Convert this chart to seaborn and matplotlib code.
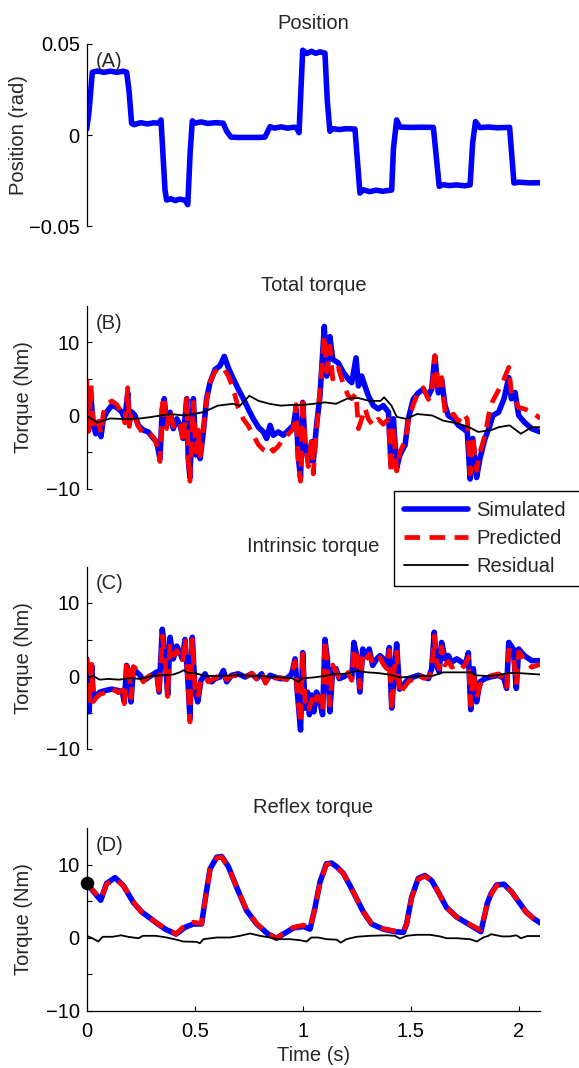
import numpy as np
import pandas as pd
import matplotlib
matplotlib.use("Agg")
import matplotlib.pyplot as plt
from matplotlib.patches import Rectangle
import seaborn as sns

# ---------------- data ----------------
pos_t = [0.000, 0.010, 0.026, 0.05, 0.08, 0.11, 0.14, 0.17, 0.185, 0.196, 0.208, 0.22, 0.25, 0.28, 0.31,
         0.335, 0.344, 0.3625, 0.370, 0.39, 0.41, 0.43, 0.455, 0.468, 0.479, 0.489, 0.50, 0.53, 0.56,
         0.60, 0.632, 0.648, 0.668, 0.70, 0.75, 0.80, 0.825, 0.849, 0.87, 0.90, 0.93, 0.96, 0.972,
         0.983, 1.000, 1.02, 1.04, 1.06, 1.08, 1.103, 1.114, 1.126, 1.14, 1.17, 1.20, 1.242, 1.265,
         1.28, 1.31, 1.34, 1.37, 1.412, 1.420, 1.435, 1.45, 1.50, 1.55, 1.605, 1.632, 1.65, 1.68,
         1.71, 1.75, 1.775, 1.787, 1.800, 1.82, 1.86, 1.90, 1.958, 1.978, 2.00, 2.05, 2.10]
pos_v = [0.0034, 0.012, 0.0345, 0.0352, 0.0345, 0.0351, 0.0345, 0.0351, 0.0345, 0.0243, 0.0065, 0.0058,
         0.0069, 0.0062, 0.0068, 0.0066, 0.0084, -0.030, -0.0355, -0.0348, -0.0358, -0.0350, -0.0356,
         -0.0380, -0.0093, 0.0079, 0.0066, 0.0073, 0.0065, 0.0069, 0.0066, 0.0022, -0.0010, -0.0012,
         -0.0012, -0.0012, -0.0010, 0.0047, 0.0039, 0.0046, 0.0039, 0.0044, 0.0040, 0.0014, 0.0466,
         0.0448, 0.0460, 0.0449, 0.0457, 0.0450, 0.0186, 0.0022, 0.0036, 0.0031, 0.0036, 0.0034,
         -0.0317, -0.0299, -0.0309, -0.0301, -0.0307, -0.0300, -0.0074, 0.0084, 0.0045, 0.0043,
         0.0044, 0.0043, -0.0280, -0.0271, -0.0276, -0.0272, -0.0277, -0.0272, -0.0040, 0.0075,
         0.0042, 0.0045, 0.0041, 0.0043, -0.0262, -0.0257, -0.0261, -0.0260]

tot_t = [0.000, 0.008, 0.020, 0.031, 0.042, 0.054, 0.066, 0.077, 0.093, 0.116, 0.139, 0.162, 0.177, 0.190,
         0.197, 0.208, 0.224, 0.239, 0.262, 0.285, 0.309, 0.324, 0.339, 0.350, 0.359, 0.370, 0.386, 0.401,
         0.417, 0.432, 0.447, 0.463, 0.470, 0.478, 0.486, 0.494, 0.505, 0.517, 0.525, 0.540, 0.555, 0.571,
         0.594, 0.617, 0.637, 0.656, 0.679, 0.702, 0.725, 0.748, 0.771, 0.795, 0.818, 0.833, 0.849, 0.864,
         0.887, 0.910, 0.926, 0.957, 0.969, 0.980, 0.990, 1.000, 1.011, 1.026, 1.042, 1.049, 1.064, 1.080,
         1.100, 1.111, 1.126, 1.139, 1.165, 1.188, 1.211, 1.227, 1.247, 1.258, 1.273, 1.288, 1.304, 1.327,
         1.350, 1.373, 1.397, 1.409, 1.420, 1.435, 1.450, 1.474, 1.489, 1.512, 1.535, 1.558, 1.582, 1.597,
         1.612, 1.628, 1.643, 1.659, 1.674, 1.698, 1.721, 1.744, 1.762, 1.775, 1.787, 1.805, 1.821, 1.844,
         1.867, 1.880, 1.907, 1.932, 1.954, 1.966, 1.983, 2.000, 2.026, 2.060, 2.100]
tot_sim = [3.5, -1.8, 2.3, -1.4, -2.5, -0.9, -2.9, -0.5, 0.5, 1.4, 1.1, 0.5, -0.5, 3.1, -0.9, 0.5, 0.0,
           -1.35, -2.0, -2.25, -3.15, -3.6, -5.9, 0.9, 2.3, -1.35, 0.45, -1.8, -0.45, -1.35, -3.15, 2.3,
           -5.9, -8.5, -2.25, 2.3, -5.4, -2.7, -5.9, -2.25, 2.3, 4.5, 6.3, 6.8, 8.1, 6.5, 5.0, 3.6, 2.3,
           0.9, -0.45, -1.6, -2.25, -3.15, -1.35, -2.7, -2.25, -2.7, -2.25, -1.35, 0.9, -5.85, -8.5, 1.8,
           -4.05, -6.3, -3.6, -6.3, -1.35, 2.7, 12.2, 5.4, 10.8, 7.7, 7.2, 5.9, 5.0, 4.5, 7.9, 4.05, 5.4,
           4.05, 2.7, 1.36, 0.9, 1.36, 0.45, -6.8, -0.45, -7.2, -5.4, -4.05, -0.45, 2.26, 3.1, 3.6, 2.7,
           3.6, 8.1, 3.1, 5.0, 1.36, 0.0, -0.45, -1.35, -1.8, -2.25, -8.7, -3.15, -8.5, -5.85, -3.15,
           -1.35, 0.0, 0.45, 2.3, 5.2, 2.3, 3.15, 0.0, -0.9, -1.8, -2.25]
tot_pred = [5.0, -2.2, 4.2, -1.5, -2.0, -0.8, -2.5, 0.3, 1.5, 2.0, 1.5, 0.3, -1.0, 3.8, -1.5, 0.5, -0.3,
            -1.5, -2.5, -2.3, -3.0, -4.0, -6.3, 1.5, 2.6, -1.8, 0.8, -1.5, -0.8, -1.0, -3.8, 2.6, -6.0,
            -9.0, -3.0, 1.8, -5.0, -2.0, -5.5, -2.0, 2.0, 4.6, 6.0, 6.6, 6.3, 5.4, 3.6, 1.0, -0.5, -1.4,
            -2.7, -4.0, -4.7, -4.9, -4.3, -4.9, -4.2, -3.2, -2.8, -1.8, 1.5, -6.5, -9.0, 2.5, -3.5, -7.0,
            -3.0, -8.0, -2.0, 3.5, 11.0, 6.0, 9.5, 5.0, 6.5, 4.3, 2.7, 2.3, 3.0, -1.8, -0.5, 1.0, -0.5,
            -1.4, -0.5, -1.2, -0.5, -8.0, -1.5, -7.6, -5.0, -3.5, -0.8, 1.5, 3.2, 3.8, 2.2, 3.0, 8.2, 3.5,
            5.2, 0.5, -0.3, 0.2, -0.8, 0.3, -0.5, -8.0, -2.8, -7.5, -5.0, -2.7, 1.0, 2.0, 3.5, 5.0, 6.6,
            3.2, 2.0, 1.1, 0.9, 0.5, -0.4]
tot_res_t = [0.0, 0.05, 0.11, 0.18, 0.248, 0.30, 0.385, 0.453, 0.539, 0.607, 0.676, 0.71, 0.753, 0.796,
             0.847, 0.898, 0.95, 1.0, 1.05, 1.103, 1.154, 1.205, 1.257, 1.308, 1.36, 1.377, 1.411, 1.436,
             1.479, 1.53, 1.6, 1.65, 1.72, 1.77, 1.813, 1.873, 1.907, 1.958, 2.01, 2.06, 2.1]
tot_res = [-0.07, -0.96, -0.4, -0.5, -0.4, -0.2, 0.2, 0.0, 0.45, 1.35, 1.6, 1.35, 2.7, 2.0, 1.6, 1.35,
           1.45, 1.45, 1.6, 1.8, 1.6, 2.3, 2.4, 2.0, 2.0, 2.5, 1.35, -0.2, -0.45, 0.2, 0.0, -0.7, -1.1,
           -1.6, -2.25, -2.0, -1.6, -1.35, -2.5, -1.6, -1.6]

int_t = [0.000, 0.011, 0.023, 0.031, 0.046, 0.062, 0.085, 0.116, 0.147, 0.165, 0.174, 0.185, 0.196, 0.205,
         0.216, 0.231, 0.247, 0.262, 0.278, 0.301, 0.324, 0.335, 0.350, 0.362, 0.375, 0.386, 0.401, 0.417,
         0.432, 0.443, 0.455, 0.468, 0.478, 0.489, 0.501, 0.514, 0.529, 0.548, 0.563, 0.579, 0.594, 0.617,
         0.633, 0.648, 0.671, 0.702, 0.733, 0.764, 0.787, 0.810, 0.828, 0.849, 0.872, 0.895, 0.926, 0.949,
         0.965, 0.975, 0.990, 1.000, 1.011, 1.022, 1.031, 1.042, 1.052, 1.064, 1.080, 1.092, 1.103, 1.114,
         1.126, 1.139, 1.154, 1.169, 1.188, 1.211, 1.227, 1.237, 1.250, 1.265, 1.278, 1.293, 1.308, 1.324,
         1.343, 1.358, 1.373, 1.389, 1.401, 1.412, 1.422, 1.435, 1.448, 1.466, 1.489, 1.512, 1.535, 1.558,
         1.582, 1.597, 1.609, 1.620, 1.632, 1.643, 1.659, 1.674, 1.690, 1.713, 1.736, 1.752, 1.767, 1.778,
         1.790, 1.805, 1.821, 1.844, 1.867, 1.907, 1.932, 1.944, 1.954, 1.975, 1.989, 2.000, 2.026, 2.060,
         2.100]
int_sim = [2.35, -4.9, 1.45, -3.1, -2.6, -2.2, -2.0, -1.8, -2.0, -2.2, -3.55, 1.45, -0.36, -3.55, 1.0,
           0.55, 0.1, -0.6, -0.36, 0.1, 0.55, -2.2, 6.4, 3.2, -2.6, 5.3, 2.35, 4.1, 3.2, 2.35, 5.0, -0.36,
           -5.8, 5.3, -1.8, -3.55, -0.6, 0.3, -0.6, -0.8, -0.36, -0.14, 0.75, -0.8, 0.1, 0.3, -0.14, 0.3,
           -0.36, 0.3, -0.8, 0.1, -0.14, -0.36, -0.36, 0.3, 2.35, -2.2, -7.4, 3.2, -4.4, -2.2, -5.3, -2.6,
           -4.9, -2.2, -3.55, -5.3, 5.0, 2.35, -4.9, 1.0, 1.0, -0.36, -0.14, 0.3, -0.36, 4.6, 2.8, -2.2,
           3.7, 2.8, 3.7, 1.45, 2.35, 2.8, 2.35, 1.45, 3.9, -4.4, -0.36, 4.4, -1.8, -1.26, -0.36, -0.14,
           0.1, -0.14, -0.36, 1.0, 6.0, 1.45, 0.55, 4.6, 2.35, 2.8, 1.9, 2.35, 1.9, 1.45, 3.2, -4.6, 1.0,
           -3.55, -0.8, -0.36, -0.14, 0.1, -0.36, -1.7, 4.6, 3.7, -1.7, 3.7, 2.8, 2.1, 2.1]
int_pred = [2.5, -4.0, 1.6, -3.5, -2.9, -2.5, -2.3, -1.7, -2.3, -1.9, -3.8, 2.0, 0.8, -3.0, 1.3, 0.9,
            0.0, -0.8, -0.2, 0.2, 0.4, -2.6, 5.5, 2.8, -2.8, 4.5, 2.8, 3.5, 2.5, 1.8, 5.2, -0.5, -6.3,
            5.0, -1.5, -3.0, -0.4, -0.1, -0.8, -0.5, -0.3, 0.2, 0.4, -0.5, 0.0, 0.1, -0.2, 0.4, -0.4, 0.5,
            -1.0, 0.3, -0.3, -0.2, -0.5, 0.5, 2.0, -2.5, -6.5, 3.0, -3.5, -3.0, -4.5, -3.2, -4.2, -2.8,
            -3.0, -4.8, 5.0, 1.5, -4.0, 1.5, 0.6, -0.2, -0.5, 0.5, -0.6, 3.8, 3.2, -1.6, 3.0, 2.2, 3.0,
            1.8, 1.7, 2.5, 1.6, 1.0, 3.5, -4.8, 0.5, 3.3, -2.5, -1.7, -0.8, -0.4, 0.3, -0.3, -0.1, 0.6,
            5.5, 2.0, 1.0, 4.0, 1.5, 2.0, 1.2, 1.5, 1.0, 1.6, 2.6, -4.0, 0.8, -3.0, -1.2, -0.5, 0.0, 0.3,
            -0.6, -1.5, 3.6, 3.0, -1.2, 3.3, 2.3, 1.2, 1.6]
int_res_t = [0.0, 0.03, 0.06, 0.1, 0.15, 0.2, 0.25, 0.3, 0.35, 0.4, 0.43, 0.45, 0.47, 0.5, 0.55, 0.6,
             0.7, 0.8, 0.86, 0.9, 0.95, 0.98, 1.0, 1.05, 1.1, 1.15, 1.2, 1.25, 1.3, 1.35, 1.4, 1.45, 1.5,
             1.55, 1.6, 1.65, 1.7, 1.78, 1.8, 1.85, 1.9, 1.95, 2.0, 2.1]
int_res = [-0.2, 0.0, -0.5, -0.4, -0.5, -0.3, -0.4, 0.0, 0.1, 0.2, 0.5, 0.8, 0.4, 0.4, 0.0, 0.0, 0.1,
           0.0, -0.1, -0.2, -0.3, -0.8, -0.3, -0.2, 0.0, 0.3, 0.3, 0.7, 0.5, 0.4, 0.2, -0.2, -0.1, 0.0,
           0.0, 0.5, 0.5, 0.5, 0.1, 0.0, 0.1, 0.4, 0.4, 0.2]

ref_t = [0.000, 0.065, 0.092, 0.131, 0.170, 0.216, 0.255, 0.309, 0.363, 0.414, 0.455, 0.494, 0.532, 0.548,
         0.571, 0.602, 0.625, 0.656, 0.694, 0.740, 0.787, 0.840, 0.879, 0.910, 0.957, 1.003, 1.034, 1.057,
         1.080, 1.110, 1.134, 1.157, 1.188, 1.219, 1.250, 1.281, 1.319, 1.373, 1.427, 1.466, 1.481, 1.504,
         1.535, 1.566, 1.597, 1.628, 1.666, 1.713, 1.767, 1.806, 1.825, 1.855, 1.872, 1.898, 1.932, 1.966,
         2.000, 2.034, 2.069, 2.100]
ref_sim = [7.4, 5.1, 7.4, 8.2, 7.1, 4.8, 3.5, 2.3, 1.15, 0.46, 1.4, 1.85, 1.85, 5.1, 9.4, 11.0, 11.1, 9.7,
           6.9, 3.7, 1.85, 0.46, -0.1, 0.46, 1.3, 1.5, 1.15, 4.1, 7.6, 10.1, 10.2, 9.7, 8.8, 7.1, 5.3, 3.5,
           1.85, 1.15, 0.8, 0.7, 1.85, 5.5, 8.1, 8.5, 7.8, 6.2, 4.1, 2.8, 1.85, 1.15, 0.8, 4.7, 6.0, 7.2,
           7.3, 6.3, 4.9, 3.5, 2.6, 2.0]
ref_pred = [7.4, 5.3, 7.3, 8.0, 7.1, 4.9, 3.4, 2.3, 1.2, 0.5, 1.7, 2.1, 1.9, 5.0, 9.3, 10.9, 11.0, 9.6,
            6.9, 3.8, 1.9, 0.5, -0.1, 0.6, 1.4, 1.7, 1.3, 4.0, 7.5, 10.0, 10.2, 9.6, 8.8, 7.1, 5.3, 3.5,
            1.9, 1.2, 0.9, 0.8, 1.9, 5.4, 8.0, 8.4, 7.8, 6.2, 4.1, 2.8, 1.9, 1.3, 1.0, 4.6, 5.9, 7.1,
            7.2, 6.3, 4.9, 3.5, 2.6, 2.0]
ref_res_t = [0.0, 0.026, 0.054, 0.074, 0.12, 0.16, 0.19, 0.24, 0.26, 0.32, 0.37, 0.416, 0.447, 0.51,
             0.524, 0.54, 0.602, 0.663, 0.71, 0.756, 0.802, 0.848, 0.879, 0.941, 0.987, 1.018, 1.04, 1.072,
             1.11, 1.157, 1.176, 1.203, 1.25, 1.311, 1.389, 1.427, 1.45, 1.481, 1.527, 1.589, 1.636,
             1.666, 1.713, 1.775, 1.806, 1.836, 1.86, 1.872, 1.923, 1.958, 1.99, 2.01, 2.04, 2.1]
ref_res = [0.23, -0.1, -0.55, 0.1, 0.1, 0.3, 0.1, -0.1, 0.23, 0.23, 0.0, -0.3, -0.55, -0.6, -0.8, -0.23,
           0.0, 0.0, 0.23, 0.55, 0.23, 0.0, -0.23, -0.23, -0.37, -0.55, 0.0, 0.0, -0.23, -0.3, -0.7, -0.23,
           0.1, 0.23, 0.3, 0.23, -0.15, 0.23, 0.37, 0.37, 0.15, -0.1, -0.1, -0.23, -0.55, 0.0, 0.23, 0.45,
           0.15, 0.15, 0.3, -0.1, 0.2, 0.2]
ref_start = (0.0, 7.4)

titles = ["Position", "Total torque", "Intrinsic torque", "Reflex torque"]
panel_tags = ["(A)", "(B)", "(C)", "(D)"]
legend_labels = ["Simulated", "Predicted", "Residual"]
torque_ticks = [-10, -5, 0, 5, 10]
torque_ticklabels = ["\u221210", "", "0", "", "10"]
pos_ticks = [-0.05, 0, 0.05]
pos_ticklabels = ["\u22120.05", "0", "0.05"]
time_ticks = [0, 0.5, 1, 1.5, 2]
time_ticklabels = ["0", "0.5", "1", "1.5", "2"]

# ---------------- style ----------------
sns.set_style("white")
plt.rcParams["font.family"] = ["Liberation Sans", "DejaVu Sans"]
FS = 14.5
plt.rcParams["font.size"] = FS

W, H = 579, 1068
fig = plt.figure(figsize=(W / 100, H / 100), dpi=100)

left = 86.7 / W
width = (540.3 - 86.7) / W
axh = 182.5 / H
tops = [44, 306, 566.5, 828]
axes = [fig.add_axes([left, 1 - (tp + 182.5) / H, width, axh]) for tp in tops]

BLUE = "#0000FF"
RED = "#FF0000"
LW_B, LW_R, LW_K = 4.0, 3.4, 1.3


def draw_three(ax, t, sim, pred, rt, res):
    sns.lineplot(x=t, y=sim, ax=ax, color=BLUE, lw=LW_B, estimator=None, sort=False,
                 legend=False, label=legend_labels[0], solid_capstyle="round",
                 solid_joinstyle="round")
    sns.lineplot(x=t, y=pred, ax=ax, color=RED, lw=LW_R, estimator=None, sort=False,
                 legend=False, label=legend_labels[1], linestyle=(0, (3.3, 2.0)),
                 dash_capstyle="butt")
    sns.lineplot(x=rt, y=res, ax=ax, color="black", lw=LW_K, estimator=None, sort=False,
                 legend=False, label=legend_labels[2])


sns.lineplot(x=pos_t, y=pos_v, ax=axes[0], color=BLUE, lw=LW_B, estimator=None, sort=False,
             legend=False, solid_capstyle="round", solid_joinstyle="round")
draw_three(axes[1], tot_t, tot_sim, tot_pred, tot_res_t, tot_res)
draw_three(axes[2], int_t, int_sim, int_pred, int_res_t, int_res)
draw_three(axes[3], ref_t, ref_sim, ref_pred, ref_res_t, ref_res)
sns.scatterplot(x=[ref_start[0]], y=[ref_start[1]], ax=axes[3], color="black", s=95,
                edgecolor="black", linewidth=0, zorder=10, clip_on=False, legend=False)

for i, ax in enumerate(axes):
    ax.set_xlim(0, 2.1)
    ax.set_title(titles[i], fontsize=FS, pad=10.5)
    ax.text(0.02, 0.905, panel_tags[i], transform=ax.transAxes, ha="left", va="center",
            fontsize=FS)
    for s in ["top", "right"]:
        ax.spines[s].set_visible(False)
    ax.spines["left"].set_linewidth(0.9)
    ax.spines["left"].set_color("black")
    ax.tick_params(axis="y", direction="in", length=3.6, width=0.8, pad=5,
                   labelsize=FS, colors="black", left=True)
    ax.set_facecolor("none")
    if i == 0:
        ax.set_ylim(-0.05, 0.05)
        ax.set_yticks(pos_ticks)
        ax.set_yticklabels(pos_ticklabels)
        ax.set_ylabel("Position (rad)", fontsize=FS)
        ax.yaxis.set_label_coords(-0.130, 0.5)
    else:
        ax.set_ylim(-10, 15)
        ax.set_yticks(torque_ticks)
        ax.set_yticklabels(torque_ticklabels)
        ax.set_ylabel("Torque (Nm)", fontsize=FS)
        ax.yaxis.set_label_coords(-0.118, 0.5)
    if i < 3:
        ax.spines["bottom"].set_visible(False)
        ax.set_xticks([])
        ax.set_xlabel("")
    else:
        ax.spines["bottom"].set_linewidth(0.9)
        ax.spines["bottom"].set_color("black")
        ax.set_xticks(time_ticks)
        ax.set_xticklabels(time_ticklabels)
        ax.tick_params(axis="x", direction="in", length=3.6, width=0.8, pad=8,
                       labelsize=FS, colors="black", bottom=True)
        ax.set_xlabel("Time (s)", fontsize=FS, labelpad=4)

handles, labels = axes[1].get_legend_handles_labels()
leg = fig.legend(handles, labels, loc="upper left",
                 bbox_to_anchor=(394 / W, 1 - 490.7 / H), borderaxespad=0,
                 frameon=True, fancybox=False, edgecolor="none", facecolor="white",
                 framealpha=1, handlelength=3.15, handletextpad=0.45, borderpad=0.5,
                 labelspacing=0.45, fontsize=FS)

# legend frame that runs past the right edge of the figure (as in the reference)
fig.canvas.draw()
bb = leg.get_window_extent()
frame = Rectangle((bb.x0 / W, bb.y0 / H), (W + 20 - bb.x0) / W, bb.height / H,
                  transform=fig.transFigure, fill=False, edgecolor="black", lw=1.0,
                  zorder=20, clip_on=False)
fig.patches.append(frame)

fig.savefig("out.png", dpi=100, facecolor="white")
